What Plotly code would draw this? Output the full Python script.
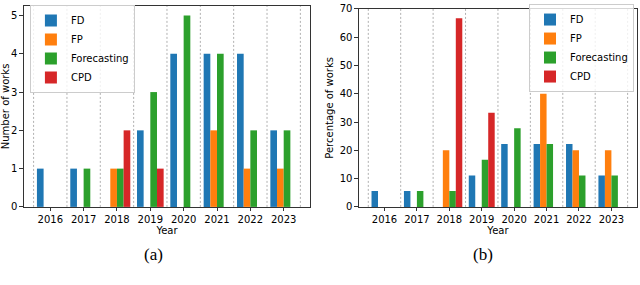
import plotly.graph_objects as go

years = [2016, 2017, 2018, 2019, 2020, 2021, 2022, 2023]
series_names = ["FD", "FP", "Forecasting", "CPD"]

# (a) Number of works
fd_count = [1, 1, 0, 2, 4, 4, 4, 2]
fp_count = [0, 0, 1, 0, 0, 2, 1, 1]
fc_count = [0, 1, 1, 3, 5, 4, 2, 2]
cpd_count = [0, 0, 2, 1, 0, 0, 0, 0]

# (b) Percentage of works
fd_pct = [5.6, 5.6, 0, 11.1, 22.2, 22.2, 22.2, 11.1]
fp_pct = [0, 0, 20, 0, 0, 40, 20, 20]
fc_pct = [0, 5.6, 5.6, 16.7, 27.8, 22.2, 11.1, 11.1]
cpd_pct = [0, 0, 66.7, 33.3, 0, 0, 0, 0]

boundaries = [2015.5, 2016.5, 2017.5, 2018.5, 2019.5, 2020.5, 2021.5, 2022.5, 2023.5]

colors = ["#1f77b4", "#ff7f0e", "#2ca02c", "#d62728"]
FONT = "DejaVu Sans"

W, H = 640, 285

def px_x(p):
    return p / W

def px_y(p):
    return 1 - p / H

fig = go.Figure()

for name, vals, col in zip(series_names, [fd_count, fp_count, fc_count, cpd_count], colors):
    fig.add_trace(go.Bar(x=years, y=vals, name=name, marker=dict(color=col, line=dict(width=0)),
                         xaxis="x", yaxis="y", legend="legend"))
for name, vals, col in zip(series_names, [fd_pct, fp_pct, fc_pct, cpd_pct], colors):
    fig.add_trace(go.Bar(x=years, y=vals, name=name, marker=dict(color=col, line=dict(width=0)),
                         xaxis="x2", yaxis="y2", legend="legend2"))

shapes = []
for xr, yr in [("x", "y domain"), ("x2", "y2 domain")]:
    for b in boundaries:
        shapes.append(dict(type="line", xref=xr, yref=yr, x0=b, x1=b, y0=0, y1=1,
                           line=dict(color="#b0b0b0", width=1, dash="2px,2px"), layer="below"))

axis_common = dict(showline=True, linecolor="#333333", linewidth=1, mirror=True,
                   ticks="outside", ticklen=3.5, tickcolor="#333333", showgrid=False,
                   zeroline=False, ticklabeloverflow="allow",
                   tickfont=dict(family=FONT, size=10, color="black"))

fig.update_layout(
    width=W, height=H, margin=dict(l=0, r=0, t=0, b=0),
    paper_bgcolor="white", plot_bgcolor="white",
    barmode="group", bargap=0.2, bargroupgap=0,
    font=dict(family=FONT, size=10, color="black"),
    shapes=shapes,
    xaxis=dict(domain=[px_x(22), px_x(309)], range=[2015.21, 2023.79], anchor="y",
               tickvals=years, ticktext=[str(y) for y in years],
               title=dict(text="Year", font=dict(family=FONT, size=10), standoff=2), **axis_common),
    yaxis=dict(domain=[px_y(210), px_y(1)], range=[0, 5.25], anchor="x",
               tickvals=[0, 1, 2, 3, 4, 5],
               title=dict(text="Number of works", font=dict(family=FONT, size=10), standoff=4), **axis_common),
    xaxis2=dict(domain=[px_x(358), px_x(637)], range=[2015.21, 2023.79], anchor="y2",
                tickvals=years, ticktext=[str(y) for y in years],
                title=dict(text="Year", font=dict(family=FONT, size=10), standoff=2), **axis_common),
    yaxis2=dict(domain=[px_y(210), px_y(4)], range=[0, 70], anchor="x2",
                tickvals=[0, 10, 20, 30, 40, 50, 60, 70],
                title=dict(text="Percentage of works", font=dict(family=FONT, size=10), standoff=4), **axis_common),
    legend=dict(x=px_x(28), y=px_y(0), xanchor="left", yanchor="top",
                bgcolor="rgba(255,255,255,0.8)", bordercolor="#cccccc", borderwidth=1,
                font=dict(family=FONT, size=10), tracegroupgap=0),
    legend2=dict(x=px_x(634), y=px_y(-1), xanchor="right", yanchor="top",
                 bgcolor="rgba(255,255,255,0.8)", bordercolor="#cccccc", borderwidth=1,
                 font=dict(family=FONT, size=10), tracegroupgap=0),
    annotations=[
        dict(text="(a)", x=px_x(152), y=px_y(260), xref="paper", yref="paper", showarrow=False,
             xanchor="center", yanchor="middle",
             font=dict(family="Liberation Serif", size=17, color="black")),
        dict(text="(b)", x=px_x(483), y=px_y(260), xref="paper", yref="paper", showarrow=False,
             xanchor="center", yanchor="middle",
             font=dict(family="Liberation Serif", size=17, color="black")),
    ],
)

fig.write_html("out.html", config={"displayModeBar": False},
               post_script="document.body.style.margin='0';")
